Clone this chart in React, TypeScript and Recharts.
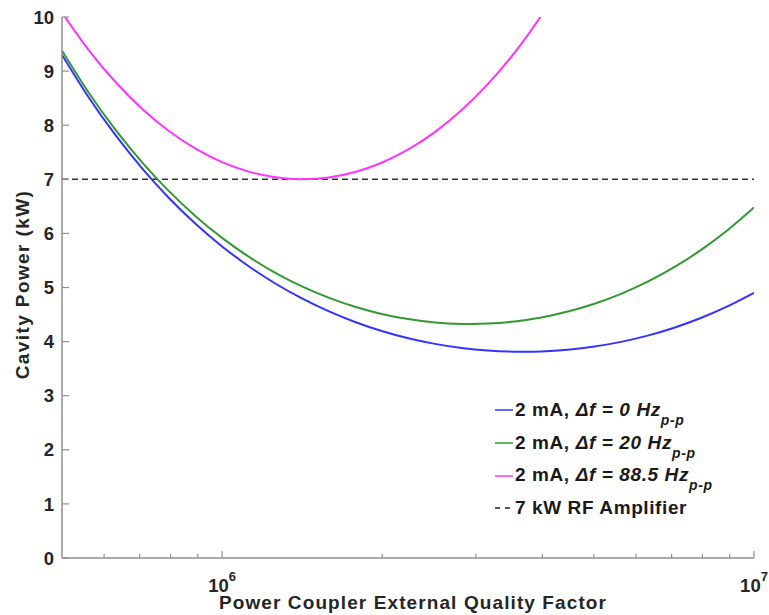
import React from 'react';
import { LineChart, Line, XAxis, YAxis, ReferenceLine, Legend } from 'recharts';

// Power coupler external quality factor (x, log scale)
const qValues = [5.0e5, 5.623e5, 6.31e5, 7.079e5, 7.943e5, 8.913e5, 1.0e6, 1.122e6, 1.259e6, 1.413e6, 1.585e6, 1.778e6, 1.995e6, 2.239e6, 2.512e6, 2.818e6, 3.162e6, 3.548e6, 3.981e6, 4.467e6, 5.012e6, 5.623e6, 6.31e6, 7.079e6, 7.943e6, 8.913e6, 1.0e7];
// Cavity power (kW)
const blueKW = [9.300, 8.502, 7.810, 7.197, 6.655, 6.178, 5.759, 5.393, 5.074, 4.798, 4.562, 4.362, 4.196, 4.062, 3.958, 3.882, 3.834, 3.813, 3.818, 3.850, 3.908, 3.995, 4.111, 4.257, 4.436, 4.650, 4.901];
const greenKW = [9.379, 8.591, 7.909, 7.309, 6.781, 6.319, 5.917, 5.570, 5.272, 5.021, 4.812, 4.643, 4.511, 4.416, 4.354, 4.327, 4.333, 4.373, 4.446, 4.555, 4.700, 4.883, 5.107, 5.375, 5.690, 6.057, 6.480];
const magentaKW = [10.080, 9.378, 8.793, 8.300, 7.894, 7.568, 7.318, 7.142, 7.036, 7.000, 7.032, 7.134, 7.306, 7.552, 7.873, 8.275, 8.763, 9.343, 10.023, 10.812];
const amplifierKW = 7;

const seriesKeys = ['blue', 'green', 'magenta'];
const seriesColors = ['#3333ff', '#339933', '#ff33ff'];
const seriesCurrent = ['2 mA, ', '2 mA, ', '2 mA, '];
const seriesDetune = ['\u0394f = 0 Hz', '\u0394f = 20 Hz', '\u0394f = 88.5 Hz'];
const seriesSub = ['p-p', 'p-p', 'p-p'];
const amplifierLabel = '7 kW RF Amplifier';

const xMajorTicks = [1e6, 1e7];
const xMajorExp = ['6', '7'];
const xMinorTicks = [6e5, 7e5, 8e5, 9e5, 2e6, 3e6, 4e6, 5e6, 6e6, 7e6, 8e6, 9e6];
const yTicks = [0, 1, 2, 3, 4, 5, 6, 7, 8, 9, 10];
const xTitle = 'Power Coupler External Quality Factor';
const yTitle = 'Cavity Power (kW)';

const data = qValues.map((q, i) => ({
  q,
  blue: blueKW[i],
  green: greenKW[i],
  magenta: i < magentaKW.length ? magentaKW[i] : null,
}));

const allXTicks = [...xMinorTicks, ...xMajorTicks].sort((a, b) => a - b);

const FONT = '"Liberation Sans", Arial, Helvetica, sans-serif';
const AX = '#8f8f8f';
const TXT = '#262626';

const XTick = (props: any) => {
  const { x, y, payload, top } = props;
  const v = payload.value;
  const mi = xMajorTicks.indexOf(v);
  const major = mi >= 0;
  const len = major ? 7 : 4;
  const dir = top ? 1 : -1;
  return (
    <g>
      <line x1={x} x2={x} y1={y} y2={y + dir * len} stroke={AX} strokeWidth={1.2} />
      {major && !top && (
        <text x={x} y={y + 34} textAnchor="middle" fill={TXT} fontSize={18.5} fontWeight="bold" fontFamily={FONT}>
          <tspan>10</tspan>
          <tspan dy={-11} fontSize={13}>{xMajorExp[mi]}</tspan>
        </text>
      )}
    </g>
  );
};

const YTick = (props: any) => {
  const { x, y, payload, right } = props;
  const dir = right ? -1 : 1;
  return (
    <g>
      <line x1={x} x2={x + dir * 7} y1={y} y2={y} stroke={AX} strokeWidth={1.2} />
      {!right && (
        <text x={x - 8} y={y} dy="0.36em" textAnchor="end" fill={TXT} fontSize={18.5} fontWeight="bold" fontFamily={FONT}>
          {payload.value}
        </text>
      )}
    </g>
  );
};

const XTitle = (props: any) => {
  const vb = props.viewBox;
  return (
    <text x={vb.x + vb.width / 2 + 5} y={vb.y + 51} textAnchor="middle" fill={TXT} fontSize={19} fontWeight="bold" fontFamily={FONT} style={{ letterSpacing: '1.1px' }}>
      {xTitle}
    </text>
  );
};

const YTitle = (props: any) => {
  const vb = props.viewBox;
  const cx = 29;
  const cy = vb.y + vb.height / 2 - 3;
  return (
    <text x={cx} y={cy} transform={`rotate(-90, ${cx}, ${cy})`} textAnchor="middle" fill={TXT} fontSize={19} fontWeight="bold" fontFamily={FONT} style={{ letterSpacing: '1.4px' }}>
      {yTitle}
    </text>
  );
};

const LegendBox = () => {
  const rowStyle: React.CSSProperties = { display: 'flex', alignItems: 'center', height: 32.7, whiteSpace: 'nowrap' };
  const textStyle: React.CSSProperties = { fontFamily: FONT, fontWeight: 'bold', fontSize: 19, color: '#1a1a1a', letterSpacing: '0.6px', lineHeight: '20px' };
  return (
    <div>
      {seriesKeys.map((k, i) => (
        <div key={k} style={rowStyle}>
          <svg width={20} height={4} style={{ display: 'block' }}>
            <line x1={0} x2={18} y1={2} y2={2} stroke={seriesColors[i]} strokeWidth={1.5} />
          </svg>
          <span style={textStyle}>
            {seriesCurrent[i]}
            <i>{seriesDetune[i]}</i>
            <i style={{ fontSize: 14, position: 'relative', top: 9 }}>{seriesSub[i]}</i>
          </span>
        </div>
      ))}
      <div style={rowStyle}>
        <svg width={20} height={4} style={{ display: 'block' }}>
          <line x1={0} x2={18} y1={2} y2={2} stroke="#222" strokeWidth={1.5} strokeDasharray="5 5" />
        </svg>
        <span style={textStyle}>{amplifierLabel}</span>
      </div>
    </div>
  );
};

export default function App() {
  return (
    <div style={{ position: 'absolute', left: 0, top: 0, background: '#fff' }}>
      <LineChart width={769} height={615} data={data} margin={{ top: 17, right: 15, bottom: 0, left: 0 }}>
        <XAxis
          dataKey="q"
          type="number"
          scale="log"
          domain={[5e5, 1e7]}
          allowDataOverflow
          ticks={allXTicks}
          interval={0}
          tickSize={0}
          tickMargin={0}
          tickLine={false}
          axisLine={{ stroke: AX, strokeWidth: 1.5 }}
          tick={<XTick />}
          height={57}
          label={<XTitle />}
        />
        <XAxis
          xAxisId="top"
          orientation="top"
          dataKey="q"
          type="number"
          scale="log"
          domain={[5e5, 1e7]}
          allowDataOverflow
          ticks={allXTicks}
          interval={0}
          tickSize={0}
          tickMargin={0}
          tickLine={false}
          axisLine={{ stroke: AX, strokeWidth: 1.5 }}
          tick={<XTick top />}
          height={0}
        />
        <YAxis
          type="number"
          domain={[0, 10]}
          allowDataOverflow
          ticks={yTicks}
          interval={0}
          tickSize={0}
          tickMargin={0}
          tickLine={false}
          axisLine={{ stroke: AX, strokeWidth: 1.5 }}
          tick={<YTick />}
          width={62}
          label={<YTitle />}
        />
        <YAxis
          yAxisId="right"
          orientation="right"
          type="number"
          domain={[0, 10]}
          allowDataOverflow
          ticks={yTicks}
          interval={0}
          tickSize={0}
          tickMargin={0}
          tickLine={false}
          axisLine={{ stroke: AX, strokeWidth: 1.5 }}
          tick={<YTick right />}
          width={0}
        />
        <ReferenceLine y={amplifierKW} stroke="#333" strokeWidth={1.6} strokeDasharray="6 4" />
        {seriesKeys.map((k, i) => (
          <Line
            key={k}
            type="natural"
            dataKey={k}
            stroke={seriesColors[i]}
            strokeWidth={2}
            dot={false}
            activeDot={false}
            connectNulls={false}
            isAnimationActive={false}
          />
        ))}
        <Legend
          layout="vertical"
          align="center"
          verticalAlign="middle"
          wrapperStyle={{ left: 495, top: 394, width: 270 }}
          content={() => <LegendBox />}
        />
      </LineChart>
    </div>
  );
}
